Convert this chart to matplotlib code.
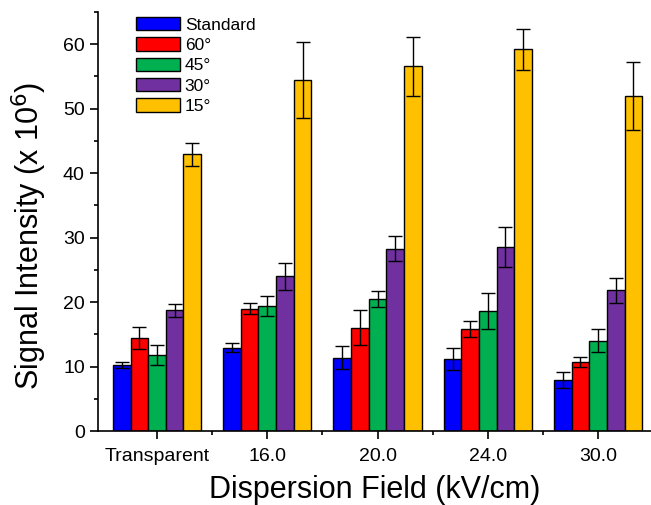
import matplotlib.pyplot as plt
import numpy as np

plt.rcParams['font.family'] = ['Liberation Sans', 'DejaVu Sans']

groups = ["Transparent", "16.0", "20.0", "24.0", "30.0"]
series = ["Standard", "60°", "45°", "30°", "15°"]
colors = ["#0000FF", "#FF0000", "#00B050", "#7030A0", "#FFC000"]

standard = [10.2, 12.9, 11.4, 11.2, 7.9]
deg60 = [14.4, 19.0, 16.0, 15.8, 10.7]
deg45 = [11.8, 19.4, 20.5, 18.6, 14.0]
deg30 = [18.7, 24.0, 28.3, 28.5, 21.8]
deg15 = [42.9, 54.4, 56.6, 59.2, 52.0]

err_standard = [0.5, 0.7, 1.8, 1.7, 1.3]
err_60 = [1.7, 0.8, 2.7, 1.2, 0.75]
err_45 = [1.5, 1.6, 1.2, 2.85, 1.8]
err_30 = [1.0, 2.1, 1.9, 3.1, 2.0]
err_15 = [1.8, 5.9, 4.6, 3.2, 5.25]

values = [standard, deg60, deg45, deg30, deg15]
errors = [err_standard, err_60, err_45, err_30, err_15]

fig = plt.figure(figsize=(6.51, 5.05), dpi=100)
ax = fig.add_axes([0.1505, 0.1465, 0.8495, 0.8297])

x = np.arange(len(groups))
w = 0.16
for i, (vals, errs) in enumerate(zip(values, errors)):
    pos = x + (i - 2) * w
    ax.bar(pos, vals, width=w, color=colors[i], edgecolor="black", linewidth=1.0,
           label=series[i], zorder=2)
    ax.errorbar(pos, vals, yerr=errs, fmt="none", ecolor="black", elinewidth=1.0,
                capsize=5, capthick=1.0, zorder=3)

ax.set_xlim(-0.535, 4.48)
ax.set_ylim(0, 65)
ax.set_xticks(x)
ax.set_xticklabels(groups)
ax.set_xticks(x[:-1] + 0.5, minor=True)
ax.set_yticks(np.arange(0, 61, 10))
ax.set_yticks(np.arange(5, 66, 10), minor=True)

for s in ["top", "right"]:
    ax.spines[s].set_visible(False)
ax.spines["left"].set_linewidth(1.2)
ax.spines["bottom"].set_linewidth(1.2)
ax.tick_params(axis="both", which="major", direction="out", length=6, width=1.2,
               labelsize=14)
ax.tick_params(axis="x", which="major", pad=6)
ax.tick_params(axis="both", which="minor", direction="out", length=3, width=1.2)

ax.set_xlabel("Dispersion Field (kV/cm)", fontsize=22, va="center")
ax.set_ylabel("Signal Intensity (x 10$^6$)", fontsize=22, va="center")
ax.xaxis.set_label_coords(0.5, -0.14)
ax.yaxis.set_label_coords(-0.125, 0.466)

ax.legend(loc="upper left", bbox_to_anchor=(0.069, 0.988), frameon=False, fontsize=12.5,
          handlelength=2.5, handleheight=0.8, labelspacing=0.27, handletextpad=0.3,
          borderpad=0, borderaxespad=0)

fig.savefig("out.png", dpi=100)
